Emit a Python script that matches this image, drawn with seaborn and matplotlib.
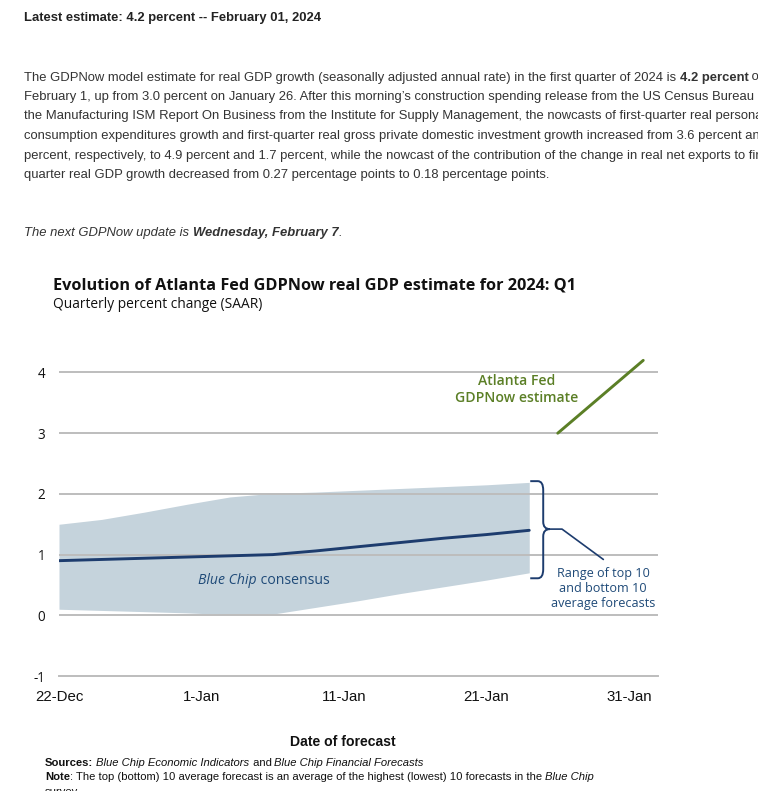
import matplotlib
matplotlib.use("Agg")
import matplotlib.pyplot as plt
import matplotlib.dates as mdates
from matplotlib.path import Path
from matplotlib.patches import PathPatch
import seaborn as sns
import pandas as pd

# ---------------- data ----------------
bc_dates = ["2023-12-22", "2023-12-25", "2023-12-28", "2023-12-31", "2024-01-03", "2024-01-06",
            "2024-01-09", "2024-01-12", "2024-01-15", "2024-01-18", "2024-01-21", "2024-01-24"]
bc_consensus = [0.90, 0.92, 0.94, 0.96, 0.98, 1.00, 1.06, 1.13, 1.20, 1.27, 1.33, 1.40]
bc_top10 = [1.50, 1.58, 1.70, 1.83, 1.95, 2.01, 2.03, 2.06, 2.09, 2.12, 2.15, 2.19]
bc_bottom10 = [0.10, 0.08, 0.06, 0.04, 0.01, 0.02, 0.13, 0.24, 0.36, 0.47, 0.58, 0.70]

gdpnow_dates = ["2024-01-26", "2024-02-01"]
gdpnow_values = [3.0, 4.2]

xtick_dates = ["2023-12-22", "2024-01-01", "2024-01-11", "2024-01-21", "2024-01-31"]
xtick_labels = ["22-Dec", "1-Jan", "11-Jan", "21-Jan", "31-Jan"]
yticks = [-1, 0, 1, 2, 3, 4]

df_bc = pd.DataFrame({"date": pd.to_datetime(bc_dates), "consensus": bc_consensus,
                      "top": bc_top10, "bottom": bc_bottom10})
df_now = pd.DataFrame({"date": pd.to_datetime(gdpnow_dates), "value": gdpnow_values})

# ---------------- style ----------------
W, H = 758, 791
sns.set_theme(style="white")
plt.rcParams["font.family"] = ["Open Sans", "Noto Sans", "DejaVu Sans"]

WEB = ["Liberation Sans", "DejaVu Sans"]
PLEX = ["Open Sans", "Noto Sans", "DejaVu Sans"]
COND = ["Liberation Sans", "DejaVu Sans"]

NAVY = "#1d3c6e"
BAND = "#c5d3dc"
GREEN = "#5b7f26"
GRID = "#bdbdbd"
TXT = "#222222"

fig = plt.figure(figsize=(W / 100, H / 100), dpi=100)
fig.patch.set_facecolor("white")


def fx(x):
    return x / W


def fy(y):
    return 1 - y / H


def pt(px):
    return px * 0.72


renderer = fig.canvas.get_renderer()


def rich(x, y, parts, size, family, color=TXT, ha="left"):
    """parts: list of (text, weight, style). Draw consecutively starting at pixel x."""
    cur = x
    objs = []
    for text, weight, style in parts:
        t = fig.text(fx(cur), fy(y), text, fontsize=pt(size), family=family,
                     fontweight=weight, fontstyle=style, color=color, va="center", ha="left")
        bb = t.get_window_extent(renderer)
        cur = bb.x1
        objs.append(t)
    if ha == "center":
        shift = (cur - x) / 2
        for t in objs:
            px, py = t.get_position()
            t.set_position((px - shift / W, py))
    return objs


# ---------------- web text ----------------
rich(24, 17.5, [("Latest estimate: 4.2 percent -- February 01, 2024", "bold", "normal")], 13, WEB)

para = [
    [("The GDPNow model estimate for real GDP growth (seasonally adjusted annual rate) in the first quarter of 2024 is ", "normal", "normal"),
     ("4.2 percent", "bold", "normal"), (" on", "normal", "normal")],
    [("February 1, up from 3.0 percent on January 26. After this morning\u2019s construction spending release from the US Census Bureau and", "normal", "normal")],
    [("the Manufacturing ISM Report On Business from the Institute for Supply Management, the nowcasts of first-quarter real personal", "normal", "normal")],
    [("consumption expenditures growth and first-quarter real gross private domestic investment growth increased from 3.6 percent and", "normal", "normal")],
    [("percent, respectively, to 4.9 percent and 1.7 percent, while the nowcast of the contribution of the change in real net exports to first-", "normal", "normal")],
    [("quarter real GDP growth decreased from 0.27 percentage points to 0.18 percentage points.", "normal", "normal")],
]
para_y = [77.5, 97.0, 116.5, 136.0, 155.5, 175.0]
for parts, y in zip(para, para_y):
    rich(24, y, parts, 13, WEB, color="#333333")

rich(24, 233, [("The next GDPNow update is ", "normal", "italic"),
               ("Wednesday, February 7", "bold", "italic"),
               (".", "normal", "italic")], 13, WEB, color="#333333")

# ---------------- chart titles ----------------
rich(53, 286, [("Evolution of Atlanta Fed GDPNow real GDP estimate for 2024: Q1", "bold", "normal")], 16.2, PLEX, color="#111111")
rich(53, 305, [("Quarterly percent change (SAAR)", "normal", "normal")], 13.8, PLEX, color="#111111")

# ---------------- axes ----------------
ax_left, ax_right = 59, 657.5
y_bottom_px = 676.0
px_per_unit = 60.7
ymin, ymax = -1, 4.5
ax_top_px = y_bottom_px - (ymax - ymin) * px_per_unit
ax = fig.add_axes([fx(ax_left), 1 - y_bottom_px / H, (ax_right - ax_left) / W,
                   (y_bottom_px - ax_top_px) / H])
ax.set_facecolor("none")

ax.fill_between(df_bc["date"], df_bc["bottom"], df_bc["top"], color=BAND, lw=0, zorder=1)
sns.lineplot(data=df_bc, x="date", y="consensus", color=NAVY, lw=2.1, ax=ax, zorder=3)
sns.lineplot(data=df_now, x="date", y="value", color=GREEN, lw=2.1, ax=ax, zorder=3)

ax.set_xlim(pd.Timestamp("2023-12-22"), pd.Timestamp("2024-02-02"))
ax.set_ylim(ymin, ymax)
ax.set_yticks(yticks)
ax.set_yticklabels([str(v) for v in yticks], fontsize=pt(13.5), family=PLEX, color="#111111")
ax.set_xticks(pd.to_datetime(xtick_dates))
ax.set_xticklabels(xtick_labels, fontsize=pt(15), family=COND, color="#111111")
ax.tick_params(axis="y", length=0, pad=10)
ax.tick_params(axis="x", length=5, width=1, color=GRID, direction="out", pad=5)
for y in yticks[1:]:
    ax.axhline(y, color=GRID, lw=1.4, zorder=2)
for s in ["top", "right", "left"]:
    ax.spines[s].set_visible(False)
ax.spines["bottom"].set_color(GRID)
ax.spines["bottom"].set_linewidth(1.4)
ax.set_xlabel("")
ax.set_ylabel("")

# ---------------- brace annotation ----------------
x0 = mdates.date2num(df_bc["date"].iloc[-1])
top = bc_top10[-1] + 0.02
bot = bc_bottom10[-1] - 0.09
mid = bc_consensus[-1] + 0.02
stem = x0 + 0.98
tip = x0 + 1.45
verts = [(x0 + 0.07, top), (x0 + 0.6, top), (stem, top), (stem, top - 0.15),
         (stem, mid + 0.12), (stem, mid), (tip, mid),
         (stem, mid), (stem, mid - 0.12), (stem, bot + 0.15),
         (stem, bot), (x0 + 0.6, bot), (x0 + 0.07, bot)]
codes = [Path.MOVETO, Path.LINETO, Path.CURVE3, Path.CURVE3,
         Path.LINETO, Path.CURVE3, Path.CURVE3,
         Path.CURVE3, Path.CURVE3, Path.LINETO,
         Path.CURVE3, Path.CURVE3, Path.LINETO]
ax.add_patch(PathPatch(Path(verts, codes), fill=False, edgecolor=NAVY, lw=1.4, zorder=4, clip_on=False))
ax.plot([tip, x0 + 2.3, x0 + 5.2], [mid, mid, 0.92], color=NAVY, lw=1.2, zorder=4, clip_on=False)

# ---------------- in-chart labels ----------------
fig.text(fx(517), fy(381), "Atlanta Fed", fontsize=pt(14), family=PLEX, fontweight="semibold",
         color=GREEN, ha="center", va="center")
fig.text(fx(517), fy(398), "GDPNow estimate", fontsize=pt(14), family=PLEX, fontweight="semibold",
         color=GREEN, ha="center", va="center")
rich(264, 581, [("Blue Chip", "normal", "italic"), (" consensus", "normal", "normal")], 14, PLEX,
     color="#1f4a78", ha="center")
for txt, y in zip(["Range of top 10", "and bottom 10", "average forecasts"], [573, 589, 604]):
    fig.text(fx(603), fy(y), txt, fontsize=pt(12.6), family=PLEX, color="#1f4a78", ha="center", va="center")

# ---------------- footer ----------------
fig.text(fx(343), fy(742), "Date of forecast", fontsize=pt(14), family=COND, fontweight="bold",
         color="#111111", ha="center", va="center")
rich(45, 763, [("Sources:", "bold", "normal"), (" ", "normal", "normal"),
               ("Blue Chip Economic Indicators", "normal", "italic"), (" and ", "normal", "normal"),
               ("Blue Chip Financial Forecasts", "normal", "italic")], 11.2, COND, color="#111111")
rich(45, 777, [("Note", "bold", "normal"),
               (": The top (bottom) 10 average forecast is an average of the highest (lowest) 10 forecasts in the ", "normal", "normal"),
               ("Blue Chip", "normal", "italic")], 11.3, COND, color="#111111")
rich(45, 792, [("survey.", "normal", "normal")], 11.3, COND, color="#111111")

fig.savefig("out.png", dpi=100)
